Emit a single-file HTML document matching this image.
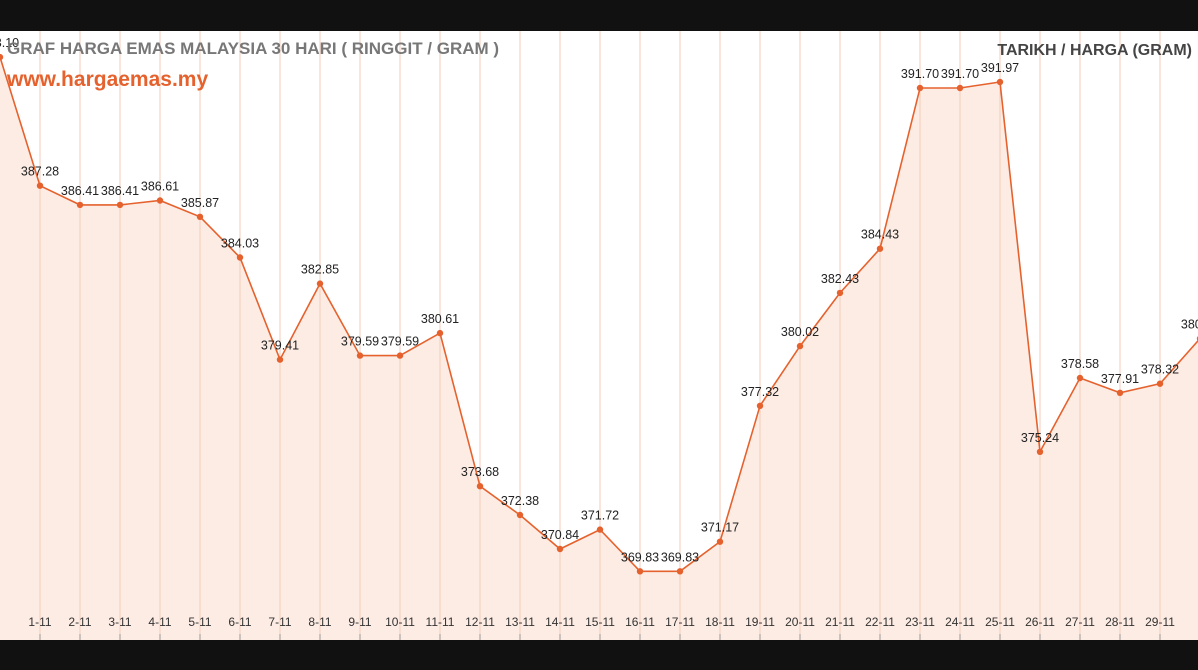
<!DOCTYPE html>
<html><head><meta charset="utf-8"><style>
html,body{margin:0;padding:0;background:#111;}
#w{width:1198px;height:670px;position:relative;overflow:hidden;background:#111;font-family:"Liberation Sans",sans-serif;}
svg{position:absolute;left:0;top:0}
</style></head><body><div id="w">
<svg id="s" width="1198" height="670" xmlns="http://www.w3.org/2000/svg">
<rect x="0" y="31" width="1198" height="609" fill="#fff"/>
</svg>
</div>
<script>
var v=[393.10,387.28,386.41,386.41,386.61,385.87,384.03,379.41,382.85,379.59,379.59,380.61,373.68,372.38,370.84,371.72,369.83,369.83,371.17,377.32,380.02,382.43,384.43,391.70,391.70,391.97,375.24,378.58,377.91,378.32,380.36];
function Y(a){return 88+(391.70-a)*22.1;}
var s='',pts=[];
for(var i=0;i<v.length;i++)pts.push((i*40)+','+Y(v[i]).toFixed(1));
s+='<polygon points="0,640 '+pts.join(' ')+' 1200,640" fill="#fdece4"/>';
for(var i=1;i<30;i++){s+='<line x1="'+(i*40)+'" y1="31" x2="'+(i*40)+'" y2="640" stroke="#f3cbb9" stroke-width="1"/>';
s+='<line x1="'+(i*40)+'" y1="634" x2="'+(i*40)+'" y2="640" stroke="#999" stroke-width="1"/>';
s+='<text x="'+(i*40)+'" y="626" font-size="12" fill="#333" text-anchor="middle">'+i+'-11</text>';}
s+='<polyline points="'+pts.join(' ')+'" fill="none" stroke="#e5622e" stroke-width="1.6"/>';
for(var i=0;i<v.length;i++){var y=Y(v[i]);s+='<circle cx="'+(i*40)+'" cy="'+y.toFixed(1)+'" r="3.2" fill="#e5622e"/>';
s+='<text x="'+(i*40)+'" y="'+(y-10).toFixed(1)+'" font-size="12.5" fill="#222" text-anchor="middle">'+v[i].toFixed(2)+'</text>';}
s+='<text x="7" y="54" font-size="17" font-weight="bold" fill="#777">GRAF HARGA EMAS MALAYSIA 30 HARI ( RINGGIT / GRAM )</text>';
s+='<text x="7" y="86" font-size="21" font-weight="bold" fill="#e5622e">www.hargaemas.my</text>';
s+='<text x="1192" y="55" font-size="16" font-weight="bold" fill="#444" text-anchor="end">TARIKH / HARGA (GRAM)</text>';
document.getElementById('s').insertAdjacentHTML('beforeend',s);
</script>
</body></html>
